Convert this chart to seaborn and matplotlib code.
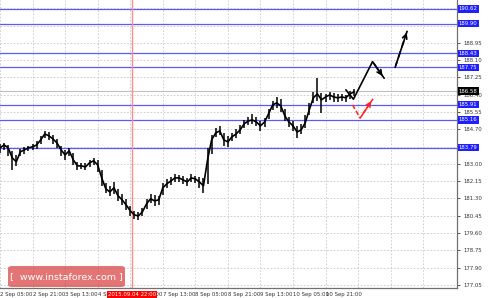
import numpy as np
import pandas as pd
import matplotlib
matplotlib.use("Agg")
import matplotlib.pyplot as plt
import matplotlib.transforms as mtransforms
from matplotlib.patches import FancyBboxPatch
import seaborn as sns

# ---------------- data ----------------
close = [183.79, 183.93, 183.79, 183.30, 183.10, 183.59, 183.69, 183.79, 183.84, 183.93,
         184.18, 184.47, 184.38, 184.23, 184.03, 183.69, 183.44, 183.64, 183.20, 182.90,
         182.90, 182.85, 183.05, 183.15, 182.95, 182.31, 181.77, 181.62, 181.82, 181.43,
         181.23, 180.98, 180.69, 180.49, 180.44, 180.64, 181.03, 181.28, 181.18, 181.23,
         181.82, 182.02, 182.16, 182.31, 182.31, 182.21, 182.11, 182.31, 182.26, 182.11,
         181.92, 183.20, 184.18, 184.52, 184.62, 184.18, 184.08, 184.33, 184.47, 184.67,
         184.97, 185.11, 185.16, 185.06, 184.87, 185.06, 185.46, 185.90, 186.00, 185.85,
         185.36, 185.06, 184.87, 184.57, 184.67, 185.02, 185.66, 186.25, 186.44, 186.15,
         186.29, 186.39, 186.29, 186.25, 186.29, 186.25, 186.44, 186.54]
high = [183.98, 184.05, 183.95, 183.62, 183.45, 183.72, 183.85, 183.90, 183.98, 184.10,
        184.35, 184.60, 184.55, 184.40, 184.20, 183.90, 183.70, 183.80, 183.55, 183.10,
        183.05, 183.02, 183.20, 183.30, 183.18, 182.70, 182.05, 181.90, 182.10, 181.75,
        181.50, 181.25, 180.95, 180.70, 180.62, 180.85, 181.25, 181.50, 181.45, 181.42,
        182.05, 182.25, 182.35, 182.48, 182.45, 182.38, 182.30, 182.48, 182.42, 182.35,
        182.30, 183.80, 184.40, 184.75, 184.85, 184.50, 184.35, 184.52, 184.70, 184.90,
        185.18, 185.30, 185.45, 185.30, 185.10, 185.28, 185.72, 186.10, 186.30, 186.18,
        185.72, 185.30, 185.10, 184.85, 184.95, 185.40, 186.00, 186.55, 187.20, 186.50,
        186.45, 186.55, 186.48, 186.42, 186.45, 186.40, 186.60, 186.70]
low = [183.55, 183.70, 183.40, 182.72, 182.90, 183.38, 183.50, 183.62, 183.68, 183.75,
       183.98, 184.25, 184.18, 184.00, 183.80, 183.40, 183.20, 183.40, 182.95, 182.72,
       182.75, 182.70, 182.85, 182.95, 182.60, 181.90, 181.55, 181.40, 181.50, 181.15,
       180.98, 180.75, 180.45, 180.30, 180.25, 180.42, 180.80, 181.05, 180.95, 181.00,
       181.45, 181.80, 181.95, 182.10, 182.12, 182.00, 181.90, 182.10, 182.05, 181.80,
       181.55, 182.00, 183.50, 184.30, 184.40, 183.90, 183.85, 184.10, 184.25, 184.45,
       184.75, 184.90, 184.95, 184.85, 184.60, 184.80, 185.20, 185.65, 185.75, 185.55,
       185.10, 184.80, 184.60, 184.28, 184.45, 184.78, 185.40, 186.00, 186.10, 185.50,
       186.05, 186.15, 186.05, 186.05, 186.08, 186.05, 186.20, 186.35]
bars = np.arange(len(close)) * 2  # hourly bar index (every 2nd bar sampled)

levels = [190.62, 189.90, 188.43, 187.75, 185.91, 185.16, 183.79]
level_labels = ["190.62", "189.90", "188.43", "187.75", "185.91", "185.16", "183.79"]
bid = 186.58
bid_label = "186.58"

ytick_vals = [177.05, 177.90, 178.75, 179.60, 180.45, 181.30, 182.15, 183.00, 183.85,
              184.70, 185.55, 186.40, 187.25, 188.10, 188.95, 189.80, 190.65]
ytick_labels = ["177.05", "177.90", "178.75", "179.60", "180.45", "181.30", "182.15",
                "183.00", "", "184.70", "185.55", "186.40", "187.25", "188.10",
                "188.95", "", ""]

xtick_pos = [0, 16, 32, 48, 64, 80, 96, 112, 128, 144, 160, 176, 192, 208]
xtick_labels = ["2 Sep 05:00", "2 Sep 21:00", "3 Sep 13:00", "4 Sep 05:00", "4 Sep 21:00",
                "7 Sep 13:00", "8 Sep 05:00", "8 Sep 21:00", "9 Sep 13:00", "10 Sep 05:00",
                "10 Sep 21:00", "", "", ""]
marker_bar = 65
marker_label = "2015.09.04 22:00"

# forecast paths
main_x = [170.0, 173.7, 183.1, 188.8]
main_y = [186.64, 186.18, 188.03, 187.21]
dash_x = [194.1, 200.3]
dash_y = [187.72, 189.59]
alt_x = [173.3, 177.0, 183.3]
alt_y = [185.90, 185.25, 186.20]

# ---------------- plot ----------------
sns.set_theme(style="white")
plt.rcParams['font.family'] = ['DejaVu Sans']

fig = plt.figure(figsize=(5.0, 2.98), dpi=100)
ax = fig.add_axes([0.0, 0.034, 0.914, 0.966])
ax.set_facecolor("white")

ax.set_xlim(0, 224.6)
ax.set_ylim(176.90, 191.06)

# grid
for xp in xtick_pos:
    ax.axvline(xp, color="#c8c8c8", lw=0.6, ls=(0, (2, 2)), zorder=0)
for yv in ytick_vals:
    ax.axhline(yv, color="#c8c8c8", lw=0.6, ls=(0, (2, 2)), zorder=0)

# level lines
for lv in levels:
    ax.axhline(lv, color="#5a5aff", lw=0.9, zorder=1)
ax.axhline(bid, color="#c0c0c0", lw=0.8, zorder=1)

# red time marker
ax.axvline(marker_bar, color="#ff8c8c", lw=1.0, zorder=1)

# price
df = pd.DataFrame({"bar": bars, "close": close, "high": high, "low": low})
ax.vlines(df["bar"], df["low"], df["high"], color="black", lw=1.1, zorder=3)
sns.lineplot(data=df, x="bar", y="close", ax=ax, color="black", lw=1.2, zorder=3)

# forecast arrows
ax.plot(main_x, main_y, color="black", lw=1.2, zorder=4)
ax.annotate("", xy=(main_x[-1], main_y[-1]), xytext=(main_x[-2], main_y[-2]),
            arrowprops=dict(arrowstyle="->", color="black", lw=1.2, mutation_scale=8), zorder=4)
ax.plot(dash_x, dash_y, color="black", lw=1.2, ls=(0, (4, 2.5)), zorder=4)
ax.annotate("", xy=(dash_x[-1], dash_y[-1]), xytext=(dash_x[-2], dash_y[-2]),
            arrowprops=dict(arrowstyle="->", color="black", lw=1.2, mutation_scale=8), zorder=4)
ax.plot(alt_x, alt_y, color="#ff2020", lw=1.1, ls=(0, (3, 1.5)), zorder=4)
ax.annotate("", xy=(alt_x[-1], alt_y[-1]), xytext=(alt_x[-2], alt_y[-2]),
            arrowprops=dict(arrowstyle="->", color="#ff2020", lw=1.1, mutation_scale=8), zorder=4)

# axes styling
for s in ["left", "top"]:
    ax.spines[s].set_visible(False)
for s in ["right", "bottom"]:
    ax.spines[s].set_color("#707070")
    ax.spines[s].set_linewidth(0.9)

ax.yaxis.tick_right()
ax.set_yticks(ytick_vals)
ax.set_yticklabels(ytick_labels)
ax.set_xticks(xtick_pos)
ax.set_xticklabels(xtick_labels)
ax.tick_params(axis="y", labelsize=3.9, colors="#333333", length=2, width=0.6, pad=2.5)
ax.tick_params(axis="x", labelsize=3.9, colors="#333333", length=2, width=0.6, pad=0.8)
for t in ax.get_xticklabels():
    t.set_ha("left")
ax.set_xlabel("")
ax.set_ylabel("")

ytrans = mtransforms.blended_transform_factory(ax.transAxes, ax.transData)
for lv, lab in zip(levels, level_labels):
    ax.text(1.004, lv, lab, transform=ytrans, fontsize=3.9, color="white", va="center",
            ha="left", zorder=6, clip_on=False,
            bbox=dict(boxstyle="square,pad=0.2", fc="#2020ff", ec="none"))
ax.text(1.004, bid, bid_label, transform=ytrans, fontsize=3.9, color="white", va="center",
        ha="left", zorder=6, clip_on=False,
        bbox=dict(boxstyle="square,pad=0.2", fc="black", ec="none"))

xtrans = mtransforms.blended_transform_factory(ax.transData, ax.transAxes)
ax.text(marker_bar, -0.015, marker_label, transform=xtrans, fontsize=3.9, color="white",
        va="top", ha="center", zorder=6, clip_on=False,
        bbox=dict(boxstyle="square,pad=0.2", fc="#ff0000", ec="none"))

# watermark
wm = FancyBboxPatch((8 / 500, 1 - 287 / 298), 117 / 500, 21 / 298,
                    boxstyle="round,pad=0,rounding_size=0.008",
                    transform=fig.transFigure, fc="#d94040", ec="none", alpha=0.72, zorder=10)
fig.patches.append(wm)
fig.text(66 / 500, 1 - 276.5 / 298, "[  www.instaforex.com ]", color="white", fontsize=6.8,
         ha="center", va="center", zorder=11)

fig.savefig("out.png", dpi=100)
